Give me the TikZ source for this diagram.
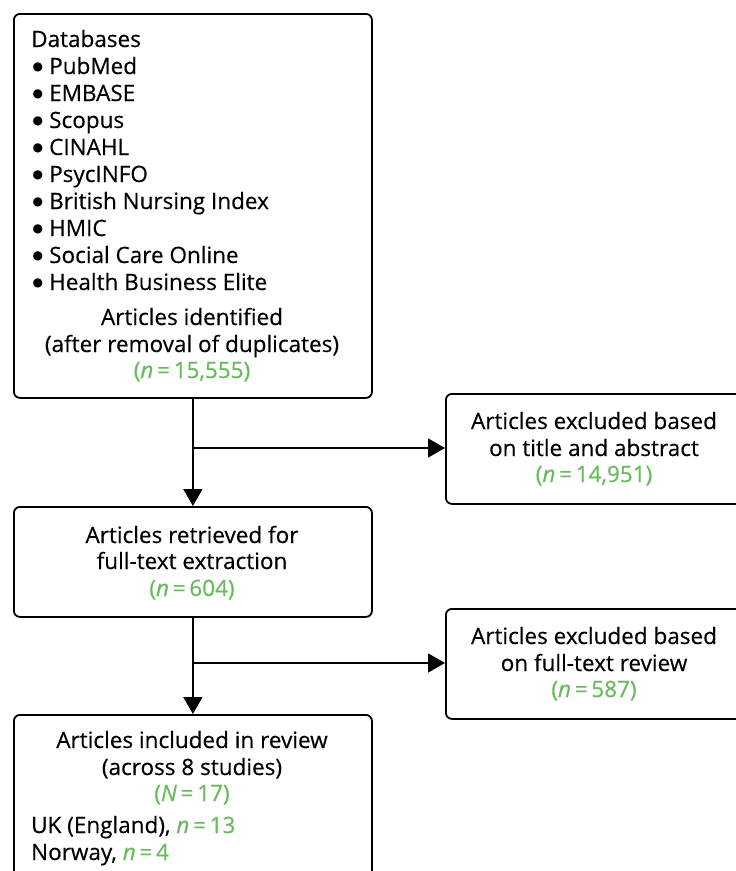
\documentclass[tikz,border=0pt]{standalone}
\usepackage{fontspec}
\setmainfont{Open Sans}[FakeBold=0.35]
\newfontfamily\djv{DejaVu Sans}
\usetikzlibrary{arrows.meta}
\definecolor{ngreen}{RGB}{102,187,90}
\newcommand\gn[1]{\textcolor{ngreen}{#1}}
\newcommand\nn{\textit{n}\,=\,}
\newcommand\NN{\textit{N}\,=\,}
\newcommand\blt{\makebox[18bp][l]{\hspace{1.5bp}\raisebox{3.5bp}{\djv\fontsize{12bp}{12bp}\selectfont ●}}}
\begin{document}
\begin{tikzpicture}[x=1bp,y=-1bp,
  box/.style={draw=black,line width=1.8bp,rounded corners=6bp,inner sep=0pt,anchor=north west},
  txt/.style={inner sep=0pt,anchor=base,font=\fontsize{22.5bp}{27bp}\selectfont},
  ltxt/.style={txt,anchor=base west},
  arr/.style={line width=1.8bp,-{Triangle[length=17bp,width=19bp]}}]
\clip (0,0) rectangle (736,871);
\fill[white] (0,0) rectangle (736,871);
% boxes
\node[box,minimum width=358bp,minimum height=384bp] (b1) at (13,13) {};
\node[box,minimum width=320bp,minimum height=110bp] (b2) at (445,393) {};
\node[box,minimum width=358bp,minimum height=110bp] (b3) at (13,506) {};
\node[box,minimum width=320bp,minimum height=110bp] (b4) at (445,608) {};
\node[box,minimum width=358bp,minimum height=200bp] (b5) at (13,714) {};
% box 1 text
\node[ltxt] (t1a) at (31,47) {Databases};
\node[ltxt] (t1b) at (31,74) {\blt PubMed};
\node[ltxt] (t1c) at (31,101) {\blt EMBASE};
\node[ltxt] (t1d) at (31,128) {\blt Scopus};
\node[ltxt] (t1e) at (31,155) {\blt CINAHL};
\node[ltxt] (t1f) at (31,182) {\blt PsycINFO};
\node[ltxt] (t1g) at (31,209) {\blt British Nursing Index};
\node[ltxt] (t1h) at (31,236) {\blt HMIC};
\node[ltxt] (t1i) at (31,263) {\blt Social Care Online};
\node[ltxt] (t1j) at (31,290) {\blt Health Business Elite};
\node[txt] (t1k) at (192,325) {Articles identified};
\node[txt] (t1l) at (192,352) {(after removal of duplicates)};
\node[txt] (t1m) at (192,378) {\gn{(\nn15,555)}};
% box 2 text
\node[txt] (t2a) at (594,429) {Articles excluded based};
\node[txt] (t2b) at (594,456) {on title and abstract};
\node[txt] (t2c) at (594,482) {\gn{(\nn14,951)}};
% box 3 text
\node[txt] (t3a) at (192,543) {Articles retrieved for};
\node[txt] (t3b) at (192,569) {full-text extraction};
\node[txt] (t3c) at (192,596) {\gn{(\nn604)}};
% box 4 text
\node[txt] (t4a) at (594,644) {Articles excluded based};
\node[txt] (t4b) at (594,671) {on full-text review};
\node[txt] (t4c) at (594,697) {\gn{(\nn587)}};
% box 5 text
\node[txt] (t5a) at (192,748) {Articles included in review};
\node[txt] (t5b) at (192,775) {(across 8 studies)};
\node[txt] (t5c) at (192,801) {\gn{(\NN17)}};
\node[ltxt] (t5d) at (31,833) {UK (England), \gn{\nn13}};
\node[ltxt] (t5e) at (31,860) {Norway, \gn{\nn4}};
% connectors
\coordinate (j1) at (192,448);
\coordinate (j2) at (192,663);
\draw[arr] (b1.south) -- (b3.north);
\draw[arr] (j1) -- (b2.west |- j1);
\draw[arr] (b3.south) -- (b5.north);
\draw[arr] (j2) -- (b4.west |- j2);
\end{tikzpicture}
\end{document}
